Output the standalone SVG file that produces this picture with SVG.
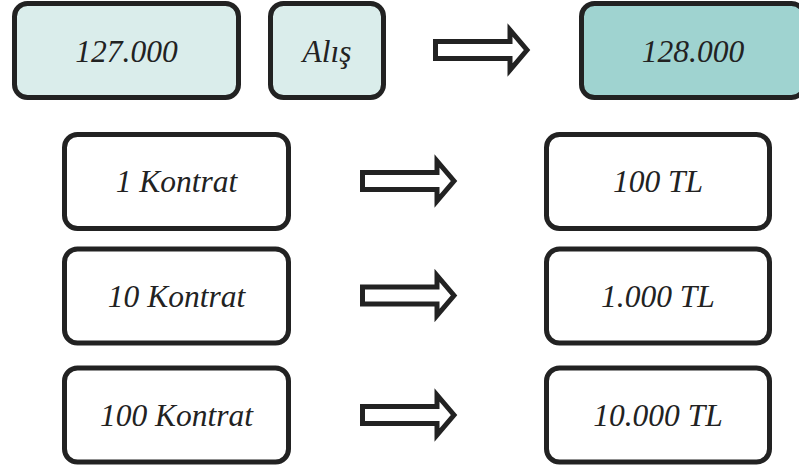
<svg xmlns="http://www.w3.org/2000/svg" width="799" height="466" viewBox="0 0 799 466">
<style>
.box{stroke:#222;stroke-width:5;}
.w{fill:#fff;}
.l{fill:#daedeb;}
.d{fill:#9fd3d0;}
.t{font-family:"Liberation Serif","Times New Roman",serif;font-style:italic;font-size:31.5px;fill:#222;text-anchor:middle;}
.arr{fill:#fff;stroke:#222;stroke-width:5;stroke-linejoin:miter;}
</style>
<defs>
<path id="arrow" d="M2.5,-8.5 H77 V-20 L94,0 L77,20 V8.5 H2.5 Z"/>
</defs>
<g id="n127"><rect class="box l" x="14.5" y="3.5" width="224" height="94" rx="13"/><text class="t" x="126.5" y="62">127.000</text></g>
<g id="nAlis"><rect class="box l" x="270.5" y="3.5" width="113" height="94" rx="13"/><text class="t" x="327" y="62">Alış</text></g>
<g id="n128"><rect class="box d" x="581.5" y="3.5" width="223" height="94" rx="13"/><text class="t" x="693" y="62">128.000</text></g>
<g id="k1"><rect class="box w" x="64.5" y="134.5" width="224" height="94" rx="13"/><text class="t" x="176.5" y="192">1 Kontrat</text></g>
<g id="k10"><rect class="box w" x="64.5" y="249" width="224" height="94" rx="13"/><text class="t" x="176.5" y="307">10 Kontrat</text></g>
<g id="k100"><rect class="box w" x="64.5" y="368" width="224" height="94" rx="13"/><text class="t" x="176.5" y="426">100 Kontrat</text></g>
<g id="tl100"><rect class="box w" x="546.5" y="134.5" width="223" height="94" rx="13"/><text class="t" x="658" y="192">100 TL</text></g>
<g id="tl1000"><rect class="box w" x="546.5" y="249" width="223" height="94" rx="13"/><text class="t" x="658" y="307">1.000 TL</text></g>
<g id="tl10000"><rect class="box w" x="546.5" y="368" width="223" height="94" rx="13"/><text class="t" x="658" y="426">10.000 TL</text></g>
<g id="connectors">
<use href="#arrow" class="arr" transform="translate(433,50)"/>
<use href="#arrow" class="arr" transform="translate(360,181)"/>
<use href="#arrow" class="arr" transform="translate(360,295.5)"/>
<use href="#arrow" class="arr" transform="translate(360,415)"/>
</g>
</svg>
